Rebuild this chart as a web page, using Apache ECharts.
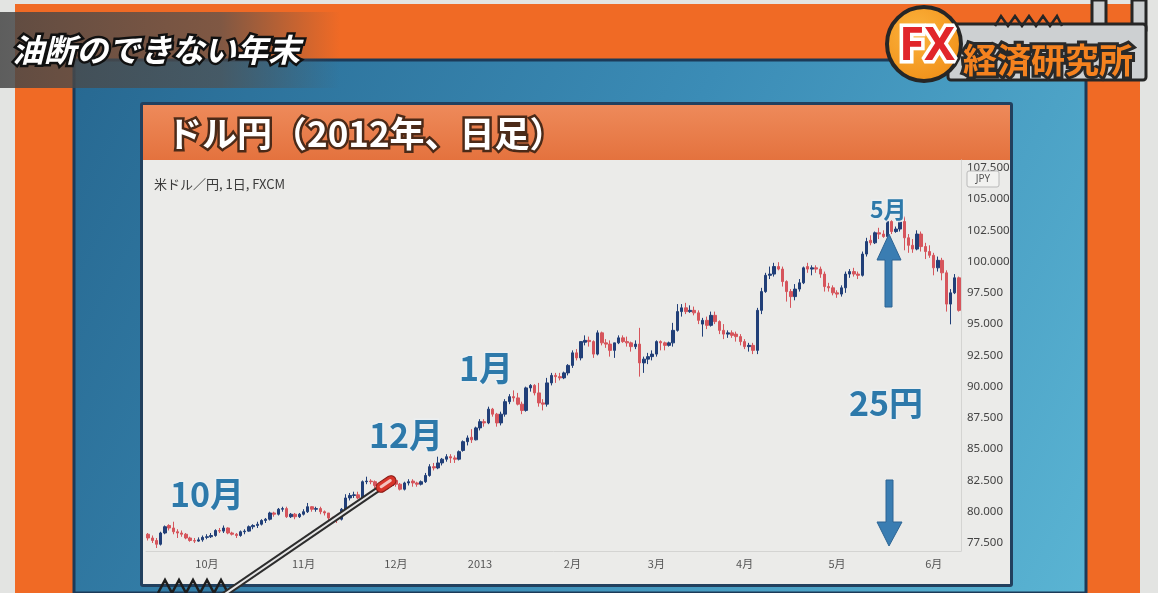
<!DOCTYPE html>
<html><head><meta charset="utf-8">
<script src="https://cdn.jsdelivr.net/npm/echarts@6/dist/echarts.min.js"></script>
<style>html,body{margin:0;padding:0;background:#e4e5e3;}#c{width:1158px;height:593px;}</style>
</head><body><div id="c"></div>
<script>
// rows: [day, open, close, low, high]
const sep2012 = [[11,78.20,77.90,77.70,78.30],[12,77.90,77.70,77.50,78.10],[13,77.70,77.40,77.10,77.90],[14,77.40,78.30,77.30,78.40],[17,78.30,78.80,78.20,78.90],[18,78.90,78.70,78.50,79.00],[19,78.70,78.40,78.20,79.20],[20,78.40,78.30,77.90,78.60],[21,78.30,78.20,78.00,78.50],[24,78.20,77.90,77.80,78.30],[25,77.90,77.70,77.60,78.00],[26,77.70,77.65,77.50,77.90],[27,77.65,77.75,77.60,77.95],[28,77.75,77.95,77.60,78.10]];
const oct2012 = [[1,77.95,78.00,77.80,78.20],[2,78.00,78.10,77.90,78.30],[3,78.10,78.50,78.00,78.60],[4,78.50,78.45,78.30,78.70],[5,78.45,78.70,78.30,78.90],[8,78.70,78.30,78.20,78.75],[9,78.30,78.20,78.10,78.40],[10,78.20,78.10,77.90,78.30],[11,78.10,78.40,78.00,78.50],[12,78.40,78.45,78.20,78.60],[15,78.45,78.80,78.40,78.90],[16,78.80,78.90,78.60,79.00],[17,78.90,79.00,78.70,79.20],[18,79.00,79.30,78.90,79.40],[19,79.30,79.40,79.10,79.50],[22,79.40,79.90,79.30,80.00],[23,79.90,79.80,79.60,80.00],[24,79.80,80.20,79.70,80.30],[25,80.20,80.25,80.00,80.40],[26,80.25,79.60,79.50,80.40],[29,79.60,79.80,79.50,79.90],[30,79.80,79.60,79.40,79.90],[31,79.60,79.80,79.50,79.90]];
const nov2012 = [[1,79.80,80.00,79.70,80.20],[2,80.00,80.40,79.90,80.70],[5,80.40,80.20,80.00,80.45],[6,80.20,80.25,80.00,80.40],[7,80.25,80.00,79.80,80.40],[8,80.00,79.90,79.70,80.10],[9,79.90,79.50,79.30,79.90],[12,79.50,79.45,79.30,79.60],[13,79.45,79.40,79.10,79.50],[14,79.40,80.20,79.30,80.30],[15,80.20,81.10,80.10,81.40],[16,81.10,81.30,80.90,81.50],[19,81.30,81.35,81.10,81.60],[20,81.35,81.10,81.00,81.60],[21,81.10,82.40,81.00,82.50],[22,82.40,82.45,82.20,82.80],[23,82.45,82.40,82.20,82.60],[26,82.40,82.10,81.90,82.50],[27,82.10,81.90,81.70,82.20],[28,81.95,81.85,81.60,82.10],[29,81.85,82.10,81.80,82.40],[30,82.10,82.50,82.00,82.60]];
const dec2012 = [[3,82.50,82.20,82.00,82.60],[4,82.20,81.80,81.70,82.30],[5,81.80,82.30,81.70,82.40],[6,82.30,82.40,82.10,82.60],[7,82.45,82.30,82.00,82.60],[10,82.30,82.20,82.00,82.40],[11,82.20,82.40,82.10,82.50],[12,82.40,82.90,82.30,83.10],[13,82.90,83.60,82.80,83.80],[14,83.60,83.50,83.30,83.90],[17,83.50,83.90,83.40,84.40],[18,83.90,84.20,83.70,84.30],[19,84.20,84.40,84.00,84.60],[20,84.40,84.30,83.90,84.60],[21,84.30,84.20,83.90,84.50],[24,84.20,84.80,84.10,84.90],[26,84.90,85.60,84.80,85.70],[27,85.60,85.90,85.30,86.10],[28,85.95,85.75,85.50,86.60],[31,85.75,86.70,85.70,86.80]];
const jan2013 = [[2,86.70,87.20,86.50,87.40],[3,87.20,87.10,86.80,87.40],[4,87.10,88.20,87.00,88.40],[7,88.20,87.80,87.60,88.30],[8,87.80,87.10,86.80,87.90],[9,87.10,87.80,86.90,88.00],[10,87.80,88.80,87.60,89.00],[11,88.80,89.20,88.60,89.40],[14,89.20,89.10,88.80,89.70],[15,89.10,88.60,88.50,89.50],[16,88.60,88.10,87.80,88.80],[17,88.10,89.90,88.00,90.00],[18,89.90,90.10,89.60,90.20],[21,90.10,89.50,89.30,90.20],[22,89.50,88.70,88.40,90.30],[23,88.70,88.60,88.10,89.00],[24,88.60,90.30,88.40,90.70],[25,90.30,90.90,90.10,91.10],[28,90.90,90.80,90.30,91.10],[29,90.80,90.70,90.50,91.10],[30,90.70,91.10,90.60,91.20],[31,91.10,91.70,90.90,91.80]];
const feb2013 = [[1,91.70,92.70,91.50,92.90],[4,92.70,92.30,92.10,93.00],[5,92.30,93.60,92.10,93.60],[6,93.55,93.70,93.30,94.10],[7,93.70,93.60,93.20,94.00],[8,93.60,92.60,92.30,93.70],[11,92.60,94.30,92.50,94.50],[12,94.30,93.50,93.30,94.40],[13,93.50,93.40,93.10,93.80],[14,93.40,92.90,92.40,93.70],[15,92.90,93.50,92.30,93.50],[18,93.50,93.90,93.40,94.10],[19,93.90,93.60,93.50,94.10],[20,93.60,93.50,93.20,94.00],[21,93.50,93.20,92.80,93.60],[22,93.20,93.40,93.00,93.70],[25,93.40,91.90,90.80,94.70],[26,91.90,92.20,91.10,92.40],[27,92.20,92.40,91.80,92.70],[28,92.40,92.60,92.10,92.90]];
const mar2013 = [[1,92.60,93.60,92.40,93.70],[4,93.60,93.50,92.90,93.70],[5,93.50,93.30,92.90,93.60],[6,93.30,93.50,93.20,93.60],[7,93.50,94.50,93.20,95.10],[8,94.50,96.00,94.40,96.60],[11,96.00,96.30,95.60,96.60],[12,96.30,96.00,95.80,96.70],[13,96.00,96.10,95.90,96.50],[14,96.10,95.90,95.70,96.40],[15,95.90,95.30,95.00,96.10],[18,95.00,95.30,94.00,95.50],[19,95.30,94.90,94.60,95.60],[20,94.90,95.70,94.80,96.00],[21,95.70,95.20,95.00,96.00],[22,95.20,94.50,94.20,95.30],[25,94.50,94.20,93.80,95.00],[26,94.20,94.30,93.90,94.50],[27,94.30,94.10,93.90,94.50],[28,94.20,94.00,93.60,94.40],[29,94.00,93.60,93.30,94.20]];
const apr2013 = [[1,93.60,93.20,93.00,93.80],[2,93.20,93.30,92.80,93.50],[3,93.30,92.90,92.60,93.50],[4,92.90,96.10,92.60,96.30],[5,96.10,97.60,95.80,97.90],[8,97.60,98.90,97.50,99.10],[9,98.90,99.00,98.60,99.60],[10,99.00,99.60,98.80,99.90],[11,99.60,99.40,99.30,99.95],[12,99.40,98.40,98.00,99.60],[15,98.40,97.60,96.80,98.50],[16,97.60,97.20,96.30,97.80],[17,97.20,97.80,96.90,98.20],[18,97.80,98.30,97.60,98.60],[19,98.30,99.50,98.20,99.60],[22,99.60,99.40,99.10,99.90],[23,99.40,99.50,98.90,99.70],[24,99.50,99.40,99.10,99.70],[25,99.40,99.00,98.70,99.60],[26,99.00,98.00,97.60,99.20],[29,98.00,97.90,97.60,98.30],[30,97.90,97.50,97.30,98.10]];
const may2013 = [[1,97.50,97.40,97.10,97.70],[2,97.40,97.90,97.20,98.10],[3,97.90,99.00,97.50,99.20],[6,99.00,99.20,98.70,99.40],[7,99.20,99.00,98.80,99.50],[8,99.00,98.90,98.60,99.20],[9,98.90,100.60,98.80,100.80],[10,100.60,101.60,100.40,101.90],[13,101.70,101.50,101.30,102.10],[14,101.50,102.30,101.40,102.40],[15,102.30,102.20,101.80,102.70],[16,102.20,102.00,101.90,102.50],[17,102.00,103.20,101.90,103.30],[20,103.20,102.40,102.20,103.30],[21,102.40,102.60,102.30,102.80],[22,102.60,103.20,102.40,103.70],[23,103.20,101.90,100.90,103.60],[24,101.90,101.30,100.70,102.20],[27,101.30,101.00,100.70,101.80],[28,101.00,102.20,100.90,102.50],[29,102.20,101.20,100.80,102.40],[30,101.20,100.80,100.20,101.50],[31,100.80,100.50,100.30,101.30]];
const jun2013 = [[3,100.50,99.50,98.90,100.70],[4,99.50,100.10,99.20,100.40],[5,100.10,99.10,98.50,100.30],[6,99.10,96.60,96.00,99.30],[7,96.60,97.50,94.98,97.80],[10,97.50,98.70,97.40,99.00],[11,98.70,96.10,96.00,98.80]];

const monthKeys = ['2012-09','2012-10','2012-11','2012-12','2013-01','2013-02','2013-03','2013-04','2013-05','2013-06'];
const monthRows = [sep2012,oct2012,nov2012,dec2012,jan2013,feb2013,mar2013,apr2013,may2013,jun2013];

const xTickDates = ['2012-10-01','2012-11-01','2012-12-03','2013-01-02','2013-02-01','2013-03-01','2013-04-01','2013-05-01','2013-06-03'];
const xTickLabels = ['10月','11月','12月','2013','2月','3月','4月','5月','6月'];
const yTicks = [77.5,80,82.5,85,87.5,90,92.5,95,97.5,100,102.5,105,107.5];

const titleText = 'ドル円（2012年、日足）';
const subText = '米ドル／円, 1日, FXCM';
const captionText = '油断のできない年末';
const annotations = [['10月',170,494,34],['12月',369,435,34],['1月',459,368,34],['25円',849,403,34],['5月',870,209,23]];

const dates = [], ohlc = [];
monthKeys.forEach((k, m) => monthRows[m].forEach(r => {
  dates.push(k + '-' + String(r[0]).padStart(2, '0'));
  ohlc.push([r[1], r[2], r[3], r[4]]);
}));
const tickMap = {};
xTickDates.forEach((d, i) => tickMap[d] = xTickLabels[i]);

const UP = '#213f78', DOWN = '#d6555c';
const JP = '"Noto Sans CJK JP", "Noto Sans", sans-serif';

function outlined(text, x, y, font, fill, stroke, lw, z, extra) {
  const base = Object.assign({text, x, y, font, align: 'left', verticalAlign: 'middle'}, extra || {});
  return [
    {type: 'text', z: z, silent: true, style: Object.assign({}, base, {fill: stroke, stroke: stroke, lineWidth: lw, lineJoin: 'round'})},
    {type: 'text', z: z + 1, silent: true, style: Object.assign({}, base, {fill: fill})}
  ];
}

const graphics = [
  {type: 'rect', z: -100, silent: true, shape: {x: 0, y: 0, width: 1158, height: 593}, style: {fill: '#e3e4e2'}},
  {type: 'rect', z: -99, silent: true, shape: {x: 15, y: 4, width: 1125, height: 589}, style: {fill: '#f06a25'}},
  {type: 'rect', z: -98, silent: true, shape: {x: 74, y: 60, width: 1012, height: 533},
    style: {fill: new echarts.graphic.LinearGradient(0, 0, 1, 1, [{offset: 0, color: '#276891'}, {offset: 0.5, color: '#3b8cb6'}, {offset: 1, color: '#5ab4d3'}]), stroke: '#1c3a58', lineWidth: 3}},
  {type: 'rect', z: -97, silent: true, shape: {x: 140, y: 102, width: 873, height: 485, r: 3}, style: {fill: '#22405e'}},
  {type: 'rect', z: -96, silent: true, shape: {x: 143, y: 105, width: 867, height: 55},
    style: {fill: new echarts.graphic.LinearGradient(0, 0, 0, 1, [{offset: 0, color: '#ee8a5a'}, {offset: 1, color: '#e4723e'}])}},
  {type: 'rect', z: -96, silent: true, shape: {x: 143, y: 160, width: 867, height: 424}, style: {fill: '#ebebe9'}},
  // caption overlay band
  {type: 'rect', z: 200, silent: true, shape: {x: 0, y: 12, width: 340, height: 76},
    style: {fill: new echarts.graphic.LinearGradient(0, 0, 1, 0, [{offset: 0, color: 'rgba(70,70,70,0.85)'}, {offset: 0.65, color: 'rgba(80,80,80,0.7)'}, {offset: 1, color: 'rgba(80,80,80,0)'}])}},
  // sub label
  {type: 'text', z: 50, silent: true, style: {text: subText, x: 154, y: 184, font: '13px ' + JP, fill: '#3a3a3a', align: 'left', verticalAlign: 'middle'}},
  // JPY badge
  {type: 'rect', z: 50, silent: true, shape: {x: 967, y: 171, width: 32, height: 16, r: 2}, style: {fill: '#f2f2f0', stroke: '#b9b9b9', lineWidth: 1}},
  {type: 'text', z: 51, silent: true, style: {text: 'JPY', x: 983, y: 179, font: '10px "Noto Sans", sans-serif', fill: '#555', align: 'center', verticalAlign: 'middle'}},
  // up arrow
  {type: 'polygon', z: 100, silent: true, shape: {points: [[885,307],[892,307],[892,260],[901,260],[889,234],[877,260],[885,260]]}, style: {fill: '#3a7db2', stroke: '#2d6594', lineWidth: 1}},
  // down arrow
  {type: 'polygon', z: 100, silent: true, shape: {points: [[886,480],[893,480],[893,522],[902,522],[889,546],[877,522],[886,522]]}, style: {fill: '#3a7db2', stroke: '#2d6594', lineWidth: 1}},
  // pointer stick
  {type: 'line', z: 120, silent: true, shape: {x1: 222, y1: 596, x2: 380, y2: 488}, style: {stroke: '#2d2d2d', lineWidth: 6}},
  {type: 'line', z: 121, silent: true, shape: {x1: 222, y1: 596, x2: 380, y2: 488}, style: {stroke: '#e6e6e6', lineWidth: 2}},
  {type: 'rect', z: 122, silent: true, x: 386, y: 484, rotation: 0.59, shape: {x: -11, y: -5, width: 22, height: 10, r: 5}, style: {fill: '#d8342a', stroke: '#8a1a14', lineWidth: 1}},
  {type: 'rect', z: 123, silent: true, x: 386, y: 484, rotation: 0.59, shape: {x: -7, y: -2, width: 14, height: 3, r: 1.5}, style: {fill: 'rgba(255,255,255,0.7)'}},
  // bottom zigzag
  {type: 'polyline', z: 110, silent: true, shape: {points: [[158,593],[165,580],[172,593],[179,580],[186,593],[193,580],[200,593],[207,580],[214,593],[221,580],[228,593]]}, style: {stroke: '#1e1e1e', lineWidth: 2.5, fill: null}},
  // logo
  {type: 'rect', z: 210, silent: true, shape: {x: 1092, y: 0, width: 14, height: 30}, style: {fill: '#cdd0d2', stroke: '#262626', lineWidth: 3}},
  {type: 'rect', z: 210, silent: true, shape: {x: 1132, y: 0, width: 14, height: 30}, style: {fill: '#cdd0d2', stroke: '#262626', lineWidth: 3}},
  {type: 'rect', z: 211, silent: true, shape: {x: 948, y: 24, width: 198, height: 56, r: 3}, style: {fill: '#cdd0d2', stroke: '#262626', lineWidth: 3}},
  {type: 'polyline', z: 212, silent: true, shape: {points: [[995,26],[1001,16],[1008,26],[1015,16],[1022,26],[1029,16],[1036,26],[1043,16],[1050,26],[1057,16],[1062,26]]}, style: {stroke: '#262626', lineWidth: 2.5, fill: null}},
  {type: 'circle', z: 213, silent: true, shape: {cx: 924, cy: 44, r: 37}, style: {fill: new echarts.graphic.RadialGradient(0.4, 0.35, 0.8, [{offset: 0, color: '#fbb33d'}, {offset: 1, color: '#ef8a12'}]), stroke: '#262626', lineWidth: 4}}
];
graphics.push(...outlined(titleText, 167, 134, 'bold 35px ' + JP, '#ffffff', '#4b2a18', 5, 60));
graphics.push(...outlined(captionText, 12, 50, 'italic bold 32px ' + JP, '#ffffff', '#111111', 5, 210));
graphics.push(...outlined('FX', 899, 47, 'bold 46px "Noto Sans", sans-serif', '#e1252b', '#ffffff', 7, 214));
graphics.push(...outlined('経済研究所', 963, 60, 'bold 34px ' + JP, '#f5821f', '#2a2a2a', 6, 214));
annotations.forEach(a => graphics.push(...outlined(a[0], a[1], a[2], 'bold ' + a[3] + 'px ' + JP, '#2d79aa', 'rgba(235,240,242,0.9)', 3, 90)));

const chart = echarts.init(document.getElementById('c'), null, {renderer: 'canvas'});
chart.setOption({
  animation: false,
  backgroundColor: 'transparent',
  grid: {left: 146, right: 197, top: 160, bottom: 42, containLabel: false},
  xAxis: {
    type: 'category', data: dates, boundaryGap: true,
    axisLine: {show: true, lineStyle: {color: '#d4d4d2'}},
    axisTick: {show: false}, splitLine: {show: false},
    axisLabel: {interval: (i, v) => tickMap[v] !== undefined, formatter: v => tickMap[v] || '', color: '#555', fontSize: 11, margin: 7, fontFamily: JP}
  },
  yAxis: {
    type: 'value', position: 'right', min: 76.86, max: 108.12,
    axisLine: {show: true, lineStyle: {color: '#d4d4d2'}},
    axisTick: {show: false}, splitLine: {show: false},
    axisLabel: {customValues: yTicks, formatter: v => Number(v).toFixed(3), color: '#444', fontSize: 11.5, margin: 6, fontFamily: '"Noto Sans", sans-serif'}
  },
  series: [{
    type: 'candlestick', data: ohlc, barWidth: 3,
    itemStyle: {color: UP, color0: DOWN, borderColor: UP, borderColor0: DOWN, borderWidth: 1}
  }],
  graphic: {elements: graphics}
});
</script></body></html>
